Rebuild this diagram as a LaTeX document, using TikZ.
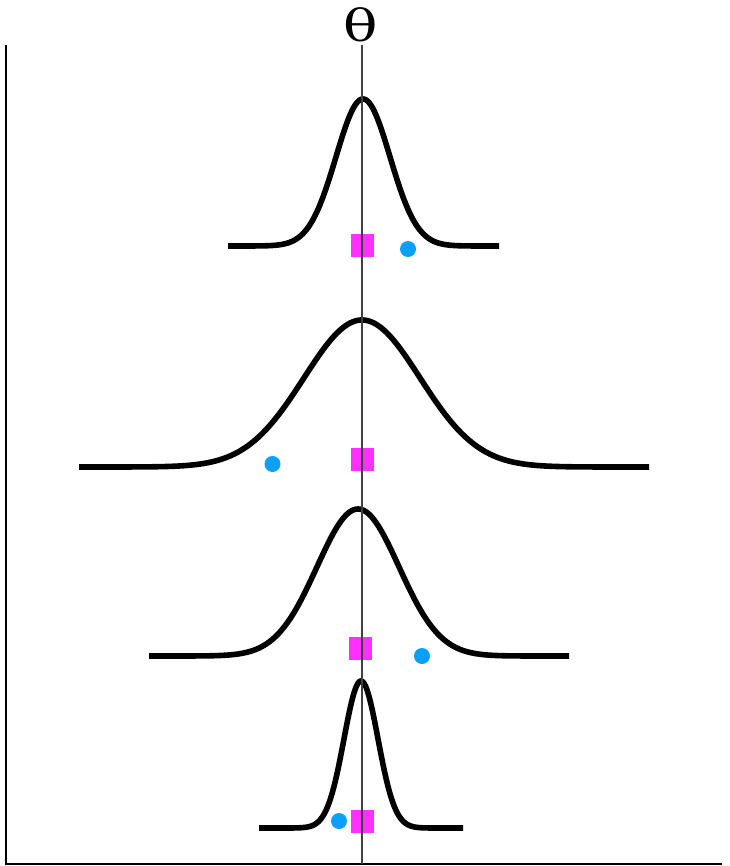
\documentclass[tikz,border=0pt]{standalone}
\usepackage{fontspec}
\newfontfamily\thetafont{DejaVu Serif}
\definecolor{sqmag}{RGB}{255,48,255}
\definecolor{dotblue}{RGB}{10,160,250}
\begin{document}
\begin{tikzpicture}[x=1pt,y=-1pt,
  curve/.style={line width=5.6pt, line join=round},
  sqmark/.style={fill=sqmag, draw=none, minimum size=23pt, inner sep=0pt, outer sep=0pt},
  dotmark/.style={fill=dotblue, draw=none, circle, minimum size=16pt, inner sep=0pt},
  axisline/.style={line width=2.4pt, black},
  centerline/.style={line width=1.1pt, black!75}]
\useasboundingbox (0,0) rectangle (729,866);
% axes
\coordinate (axtop) at (6,45);
\coordinate (axorig) at (6,864);
\coordinate (axright) at (722,864);
\draw[axisline] (axtop) -- (axorig) -- (axright);
% curves: base, left, right, centre, sigma
\foreach \b/\l/\r/\c/\s in {246/228/499/363/27, 467/79/649/362/58, 656/149/569/358/41, 828/259/463/361/17}{
  \draw[curve] plot[domain=\l:\r, samples=220, smooth] (\x, {\b - 147*exp(-0.5*((\x-\c)/\s)*((\x-\c)/\s))});
}
% markers
\node[sqmark] (s1) at (362.5,245.5) {};
\node[dotmark] (d1) at (408,249) {};
\node[sqmark] (s2) at (362.5,459.5) {};
\node[dotmark] (d2) at (272.5,464) {};
\node[sqmark] (s3) at (360.5,648) {};
\node[dotmark] (d3) at (422,656) {};
\node[sqmark] (s4) at (362.5,821.5) {};
\node[dotmark] (d4) at (339,821) {};
% centre line
\coordinate (ctop) at (362,45);
\coordinate (cbot) at (362,864);
\draw[centerline] (ctop) -- (cbot);
\node (theta) at (361,25) {\thetafont\fontsize{44}{44}\selectfont\scalebox{1.3}[1]{θ}};
\end{tikzpicture}
\end{document}
